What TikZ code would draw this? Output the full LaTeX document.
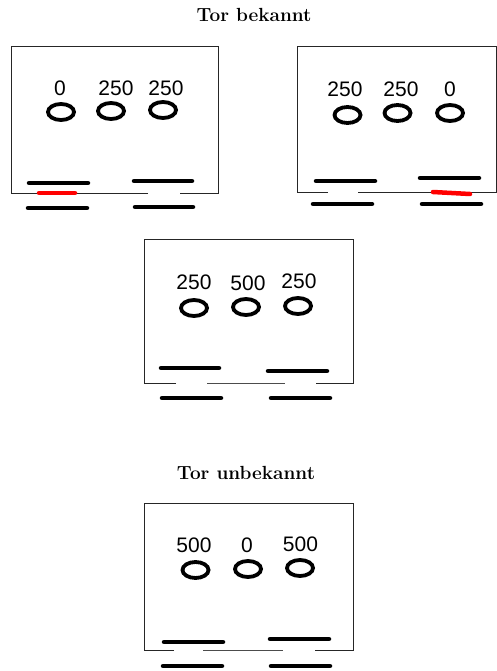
\documentclass[tikz,border=0pt]{standalone}
\usepackage{fontspec}
\usetikzlibrary{shapes.geometric}
\newfontfamily\numfont{Liberation Sans}
\begin{document}
\begin{tikzpicture}[x=1pt,y=-1pt,
  frame/.style={line width=0.8pt, draw=black!85},
  thinline/.style={line width=0.6pt, draw=black!70},
  bar/.style={line width=4.5pt, line cap=round, draw=black},
  redbar/.style={line width=4.5pt, line cap=round, draw=red},
  ring/.style={draw, ellipse, line width=3.8pt, minimum width=26pt, minimum height=16pt, inner sep=0pt},
  num/.style={font=\numfont\fontsize{21}{21}\selectfont, inner sep=0pt},
  title/.style={font=\fontsize{19}{19}\selectfont\bfseries, inner sep=0pt}]
\useasboundingbox (0,0) rectangle (497,671);

% titles
\node[title] (t1) at (254,15) {Tor bekannt};
\node[title] (t2) at (246,473) {Tor unbekannt};

% ---------- box 1 ----------
\draw[frame] (148,193) -- (11,193) -- (11,46) -- (218,46) -- (218,193) -- (180,193);
\draw[redbar] (39,193) -- (75,193);
\draw[bar] (29,183) -- (88,183);
\draw[bar] (28,208) -- (87,208);
\draw[bar] (134,181) -- (192,181);
\draw[bar] (135,207) -- (193,207);
\node[num] (a1) at (60,88) {0};
\node[num] (a2) at (116,88) {250};
\node[num] (a3) at (166,88) {250};
\node[ring] (ea1) at (61,112) {};
\node[ring] (ea2) at (111,111) {};
\node[ring] (ea3) at (163,110) {};

% ---------- box 2 ----------
\draw[frame] (328,192) -- (297,192) -- (297,46) -- (496,46) -- (496,192) -- (358,192);
\draw[redbar] (433,192) -- (470,194);
\draw[bar] (316,181) -- (375,181);
\draw[bar] (313,204) -- (372,204);
\draw[bar] (420,178) -- (479,178);
\draw[bar] (422,204) -- (481,204);
\node[num] (b1) at (345,89) {250};
\node[num] (b2) at (401,89) {250};
\node[num] (b3) at (450,89) {0};
\node[ring] (eb1) at (347.5,115) {};
\node[ring] (eb2) at (397.5,113) {};
\node[ring] (eb3) at (450,113) {};

% ---------- box 3 ----------
\draw[frame] (176,383) -- (144,383) -- (144,239) -- (353,239) -- (353,383) -- (316,383);
\draw[thinline] (207,383) -- (285,383);
\draw[bar] (161,368) -- (219,368);
\draw[bar] (268,371) -- (327,371);
\draw[bar] (162,398) -- (221,398);
\draw[bar] (271,398) -- (330,398);
\node[num] (c1) at (194,282) {250};
\node[num] (c2) at (248,283) {500};
\node[num] (c3) at (299,281) {250};
\node[ring] (ec1) at (194,308) {};
\node[ring] (ec2) at (246,307) {};
\node[ring] (ec3) at (298,306) {};

% ---------- box 4 ----------
\draw[frame] (174,650) -- (144,650) -- (144,503) -- (353,503) -- (353,650) -- (315,650);
\draw[thinline] (203,650) -- (283,650);
\draw[bar] (164,642) -- (223,642);
\draw[bar] (270,639) -- (329,639);
\draw[bar] (163,666) -- (222,666);
\draw[bar] (271,666) -- (330,666);
\node[num] (d1) at (194,545) {500};
\node[num] (d2) at (247,545) {0};
\node[num] (d3) at (300.5,544) {500};
\node[ring] (ed1) at (195.5,570) {};
\node[ring] (ed2) at (248,569) {};
\node[ring] (ed3) at (300,568) {};
\end{tikzpicture}
\end{document}
